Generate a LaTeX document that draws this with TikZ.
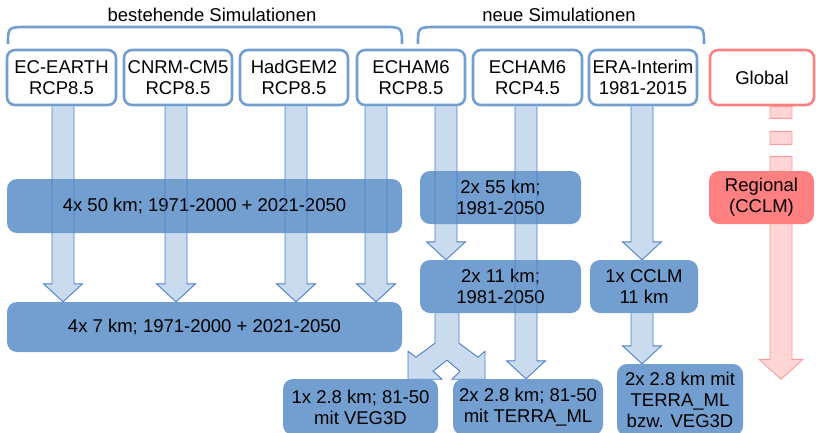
\documentclass[tikz,border=0pt]{standalone}
\usepackage{fontspec}
\setmainfont{Liberation Sans}
\usetikzlibrary{calc}
\definecolor{boxblue}{HTML}{729FCF}
\definecolor{arrowfill}{HTML}{CADBEE}
\definecolor{arrowline}{HTML}{4A7CCB}
\definecolor{redline}{HTML}{FF8080}
\definecolor{redfill}{HTML}{FF8080}
\definecolor{redarrowfill}{HTML}{FFD5D5}
\definecolor{redarrowline}{HTML}{FF9B9B}
\pgfdeclarelayer{back}\pgfdeclarelayer{front}\pgfsetlayers{back,main,front}
\tikzset{
 every node/.style={font=\fontsize{18.5pt}{21pt}\selectfont, align=center, inner sep=0pt},
 topbox/.style={draw=boxblue, line width=2.6pt, rounded corners=8pt, fill=white, minimum height=55pt},
 redbox/.style={draw=redline, line width=2.6pt, rounded corners=8pt, fill=white, minimum height=55pt},
 simbox/.style={fill=boxblue, rounded corners=10pt},
 regbox/.style={fill=redfill, rounded corners=10pt},
 afill/.style={fill=arrowfill},
 aline/.style={draw=arrowline, line width=0.9pt, line join=miter},
 redarr/.style={fill=redarrowfill, draw=redarrowline, line width=0.9pt},
 brace/.style={draw=boxblue, line width=2.6pt},
}
\newcommand\arrowshape[3]{\path[#1] let \p1=#2, \p2=#3 in
 (\x1-11pt,\y1) -- (\x1-11pt,\y2+18pt) -- (\x1-19.5pt,\y2+18pt) -- (\x1,\y2) -- (\x1+19.5pt,\y2+18pt) -- (\x1+11pt,\y2+18pt) -- (\x1+11pt,\y1);}
\newcommand\blockarrow[2]{%
 \begin{pgfonlayer}{back}\arrowshape{afill}{#1}{#2}\end{pgfonlayer}%
 \begin{pgfonlayer}{front}\arrowshape{aline}{#1}{#2}\end{pgfonlayer}}
\begin{document}
\begin{tikzpicture}[x=1pt,y=-1pt]
\useasboundingbox (0,0) rectangle (816,432);

% braces and labels
\draw[brace] (8,44) .. controls (8,27) .. (28,27) -- (382,27) .. controls (402,27) .. (402,44);
\draw[brace] (418,44) .. controls (418,27) .. (438,27) -- (684,27) .. controls (704,27) .. (704,44);
\node[anchor=base] (lblA) at (212,21) {bestehende Simulationen};
\node[anchor=base] (lblB) at (559,21) {neue Simulationen};

% top boxes
\node[topbox, minimum width=109pt] (ecearth) at (61.5,77.5) {EC-EARTH\\RCP8.5};
\node[topbox, minimum width=108pt] (cnrm) at (178,77.5) {CNRM-CM5\\RCP8.5};
\node[topbox, minimum width=108pt] (hadgem) at (294,77.5) {HadGEM2\\RCP8.5};
\node[topbox, minimum width=108pt] (echamA) at (411,77.5) {ECHAM6\\RCP8.5};
\node[topbox, minimum width=109pt] (echamB) at (527.5,77.5) {ECHAM6\\RCP4.5};
\node[topbox, minimum width=108pt] (era) at (643,77.5) {ERA-Interim\\1981-2015};
\node[redbox, minimum width=104pt] (global) at (762,77.5) {Global};

% simulation boxes
\node[simbox, minimum width=395pt, minimum height=54pt] (k50) at (204.5,206) {4x 50 km; 1971-2000 + 2021-2050};
\node[simbox, minimum width=395pt, minimum height=50pt] (k7) at (204.5,327) {4x 7 km; 1971-2000 + 2021-2050};
\node[simbox, minimum width=161pt, minimum height=53pt] (k55) at (500.5,197.5) {2x 55 km;\\1981-2050};
\node[simbox, minimum width=161pt, minimum height=53pt] (k11) at (500.5,286.5) {2x 11 km;\\1981-2050};
\node[simbox, minimum width=108pt, minimum height=53pt] (cclm) at (644,286.5) {1x CCLM\\11 km};
\node[simbox, minimum width=155pt, minimum height=56pt] (veg) at (360.5,407) {1x 2.8 km; 81-50\\mit VEG3D};
\node[simbox, minimum width=150pt, minimum height=56pt] (terra) at (528,407) {2x 2.8 km; 81-50\\mit TERRA\_ML};
\node[simbox, minimum width=126pt, minimum height=72pt] (veg3) at (680,400) {2x 2.8 km mit\\TERRA\_ML\\bzw. VEG3D};
\node[regbox, minimum width=105pt, minimum height=53pt] (regional) at (761.5,197.5) {Regional\\(CCLM)};

% block arrows
\blockarrow{($(ecearth.south)+(1.5,0)$)}{(k7.north)}
\blockarrow{($(cnrm.south)+(-2,0)$)}{(k7.north)}
\blockarrow{($(hadgem.south)+(2,0)$)}{(k7.north)}
\blockarrow{($(echamA.south)+(-35,0)$)}{(k7.north)}
\blockarrow{($(echamA.south)+(35,0)$)}{(k11.north)}
\blockarrow{($(echamB.south)+(-1.5,0)$)}{(terra.north)}
\blockarrow{($(era.south)+(-1,0)$)}{(cclm.north)}
\blockarrow{($(cclm.south)+(-2,0)$)}{(veg3.north)}

% split arrow
\begin{pgfonlayer}{back}
\begin{scope}[shift={($(k11.south)+(-53.5,0)$)}]
\path[afill, aline] (-12,0) -- (-12,30) -- (-31,44) -- (-39,38) -- (-39,66) -- (-5,66) -- (-14,58) -- (0,47) -- (13,58) -- (5,66) -- (38,66) -- (38,38) -- (31,44) -- (12,30) -- (12,0);
\end{scope}
% red arrow
\path[redarr] let \p1=($(global.south)+(19,0)$) in
 (\x1-11pt,\y1) rectangle (\x1+11pt,\y1-12pt)
 (\x1-11pt,\y1-25pt) rectangle (\x1+11pt,\y1-38pt)
 (\x1-11pt,\y1-50pt) -- (\x1-11pt,\y1-253pt) -- (\x1-22pt,\y1-253pt) -- (\x1,\y1-273pt) -- (\x1+22pt,\y1-253pt) -- (\x1+11pt,\y1-253pt) -- (\x1+11pt,\y1-50pt) -- cycle;
\end{pgfonlayer}
\end{tikzpicture}
\end{document}
